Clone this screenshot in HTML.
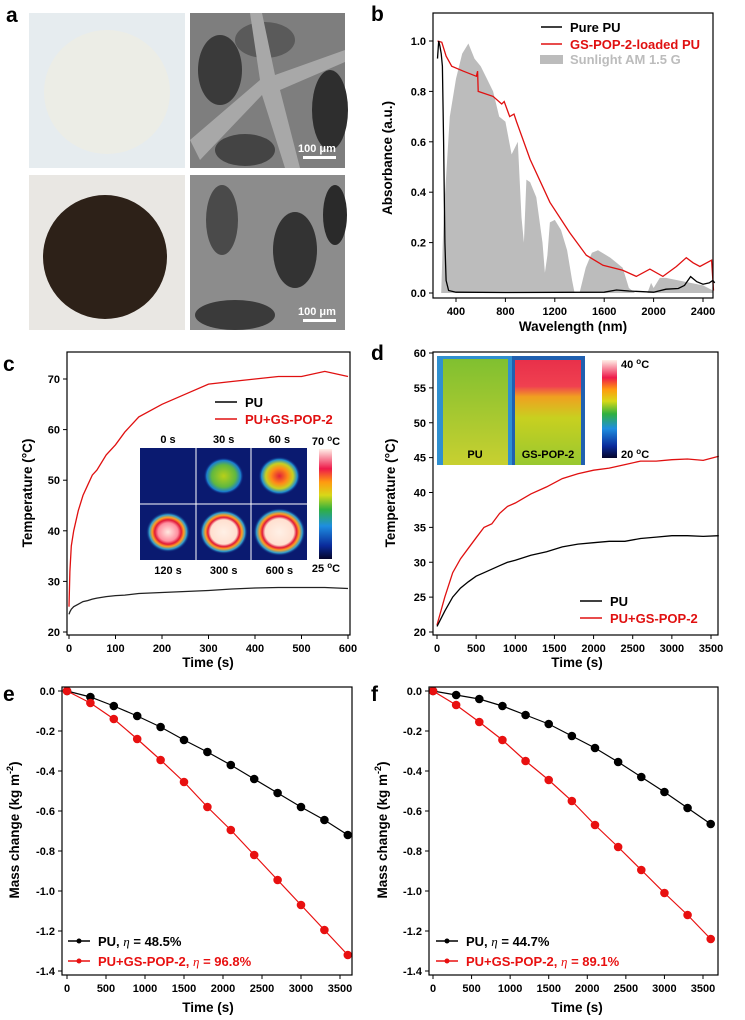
<!DOCTYPE html>
<html><head><meta charset="utf-8"><style>
html,body{margin:0;padding:0;background:#fff}
svg{display:block;font-family:"Liberation Sans",Arial,sans-serif;font-weight:bold}
</style></head><body>
<svg id="fig" width="745" height="1020" viewBox="0 0 745 1020" xmlns="http://www.w3.org/2000/svg">
<defs>
<linearGradient id="cbar" x1="0" y1="1" x2="0" y2="0">
<stop offset="0" stop-color="#05052a"/><stop offset="0.12" stop-color="#0a2a9a"/><stop offset="0.3" stop-color="#1e8ee0"/><stop offset="0.45" stop-color="#30b040"/><stop offset="0.58" stop-color="#d8d818"/><stop offset="0.7" stop-color="#ff9a10"/><stop offset="0.82" stop-color="#ee1a4a"/><stop offset="1" stop-color="#fff0e8"/></linearGradient>
<radialGradient id="h30"><stop offset="0" stop-color="#b8d018"/><stop offset="0.6" stop-color="#60b840"/><stop offset="0.85" stop-color="#1a80d0"/><stop offset="1" stop-color="#0a1a78" stop-opacity="0"/></radialGradient>
<radialGradient id="h60"><stop offset="0" stop-color="#e0203a"/><stop offset="0.4" stop-color="#ff8a18"/><stop offset="0.65" stop-color="#c8d020"/><stop offset="0.85" stop-color="#2090d0"/><stop offset="1" stop-color="#0a1a78" stop-opacity="0"/></radialGradient>
<radialGradient id="h120"><stop offset="0" stop-color="#ffe8e0"/><stop offset="0.45" stop-color="#ff90a0"/><stop offset="0.6" stop-color="#e01838"/><stop offset="0.72" stop-color="#ffa020"/><stop offset="0.85" stop-color="#30a0d0"/><stop offset="1" stop-color="#0a1a78" stop-opacity="0"/></radialGradient>
<radialGradient id="h300"><stop offset="0" stop-color="#fff0e6"/><stop offset="0.55" stop-color="#ffe0d0"/><stop offset="0.66" stop-color="#e01838"/><stop offset="0.76" stop-color="#ffa020"/><stop offset="0.88" stop-color="#30a0d0"/><stop offset="1" stop-color="#0a1a78" stop-opacity="0"/></radialGradient>
<linearGradient id="irpu" x1="0" y1="0" x2="0" y2="1"><stop offset="0" stop-color="#80c030"/><stop offset="1" stop-color="#c8d030"/></linearGradient>
<linearGradient id="irgs" x1="0" y1="0" x2="0" y2="1"><stop offset="0" stop-color="#e8304a"/><stop offset="0.25" stop-color="#f04050"/><stop offset="0.35" stop-color="#f0a020"/><stop offset="0.55" stop-color="#c8d020"/><stop offset="1" stop-color="#98c830"/></linearGradient>
</defs>

<!-- Panel a -->
<g>
<text x="6" y="22" font-size="21">a</text>
<rect x="29" y="13" width="156" height="155" fill="#e6ecef"/>
<ellipse cx="107" cy="92" rx="63" ry="62" fill="#ecede6"/>
<rect x="190" y="13" width="155" height="155" fill="#7e7e7e"/>
<ellipse cx="220" cy="70" rx="22" ry="35" fill="#3a3a3a"/><ellipse cx="330" cy="110" rx="18" ry="40" fill="#2e2e2e"/><ellipse cx="265" cy="40" rx="30" ry="18" fill="#5a5a5a"/><ellipse cx="245" cy="150" rx="30" ry="16" fill="#444"/>
<path d="M190 140 L260 80 L250 13 L262 13 L275 75 L345 50 L345 62 L280 90 L300 168 L285 168 L262 95 L200 160 Z" fill="#a8a8a8"/>
<text x="298" y="152" font-size="11" fill="#fff">100 μm</text>
<rect x="303" y="156" width="33" height="3" fill="#fff"/>
<rect x="29" y="175" width="156" height="155" fill="#e9e7e3"/>
<ellipse cx="105" cy="257" rx="62" ry="62" fill="#2d2118"/>
<rect x="190" y="175" width="155" height="155" fill="#8c8c8c"/>
<ellipse cx="222" cy="220" rx="16" ry="35" fill="#4a4a4a"/><ellipse cx="295" cy="250" rx="22" ry="38" fill="#333"/><ellipse cx="235" cy="315" rx="40" ry="15" fill="#3a3a3a"/><ellipse cx="335" cy="215" rx="12" ry="30" fill="#2a2a2a"/>
<text x="298" y="315" font-size="11" fill="#fff">100 μm</text>
<rect x="303" y="319" width="33" height="3" fill="#fff"/>
</g>

<g id="charts"></g>
</svg>
<script>
// ---- Panel b data ----
const bPureX=[250,260,270,280,290,300,310,320,340,400,800,1600,1700,1800,2000,2100,2200,2250,2300,2350,2400,2450,2480,2495];
const bPureY=[0.93,1.0,0.98,0.95,0.9,0.6,0.2,0.05,0.01,0.003,0.002,0.003,0.012,0.008,0.003,0.015,0.018,0.03,0.065,0.045,0.035,0.04,0.05,0.04];
const bGsX=[250,285,320,365,460,565,575,580,700,770,790,835,870,890,1000,1160,1320,1455,1590,1750,1860,1970,2075,2185,2265,2320,2375,2430,2470,2485];
const bGsY=[1.0,0.995,0.94,0.9,0.88,0.86,0.88,0.8,0.78,0.75,0.76,0.7,0.71,0.68,0.53,0.36,0.24,0.15,0.11,0.09,0.066,0.095,0.066,0.105,0.14,0.12,0.105,0.12,0.13,0.01];
const bSunX=[280,300,350,400,450,500,550,600,650,700,750,800,850,900,930,950,970,1000,1050,1100,1120,1140,1160,1200,1250,1300,1340,1360,1400,1450,1500,1550,1650,1750,1800,1850,1950,1980,2000,2050,2100,2200,2300,2400,2480];
const bSunY=[0,0.3,0.7,0.85,0.95,0.99,0.93,0.9,0.85,0.8,0.7,0.68,0.55,0.6,0.3,0.2,0.45,0.44,0.38,0.2,0.08,0.15,0.28,0.29,0.25,0.17,0.05,0,0,0.1,0.16,0.17,0.14,0.1,0.02,0,0,0.04,0.02,0.06,0.06,0.05,0.04,0.03,0.01];
const bXTicks=[400,800,1200,1600,2000,2400];
const bYTicks=[0,0.2,0.4,0.6,0.8,1.0];
// ---- Panel c data ----
const cT=[0,2,5,10,20,30,40,50,60,80,100,120,150,200,250,300,350,400,450,500,550,600];
const cGs=[25,32,37,40,44,47,49,51,52,55,57,59.5,62.5,65,67,69,69.5,70,70.5,70.5,71.5,70.5];
const cPu=[23.5,24,24.5,25,25.5,26,26.2,26.5,26.7,27,27.2,27.3,27.6,27.8,28,28.2,28.5,28.7,28.8,28.8,28.8,28.6];
const cXTicks=[0,100,200,300,400,500,600];
const cYTicks=[20,30,40,50,60,70];
// ---- Panel d data ----
const dT=[0,100,200,300,400,500,600,700,800,900,1000,1200,1400,1600,1800,2000,2200,2400,2600,2800,3000,3200,3400,3600];
const dGs=[21,25,28.5,30.5,32,33.5,35,35.5,37,38,38.5,39.8,40.8,42,42.7,43.2,43.5,44,44.5,44.5,44.7,44.8,44.6,45.2];
const dPu=[20.8,23,25,26.3,27.2,28,28.5,29,29.5,30,30.3,31,31.5,32.2,32.6,32.8,33,33,33.4,33.6,33.8,33.8,33.7,33.8];
const dXTicks=[0,500,1000,1500,2000,2500,3000,3500];
const dYTicks=[20,25,30,35,40,45,50,55,60];
// ---- Panel e/f data ----
const massT=[0,300,600,900,1200,1500,1800,2100,2400,2700,3000,3300,3600];
const ePu=[0,-0.03,-0.075,-0.125,-0.18,-0.245,-0.305,-0.37,-0.44,-0.51,-0.58,-0.645,-0.72];
const eGs=[0,-0.06,-0.14,-0.24,-0.345,-0.455,-0.58,-0.695,-0.82,-0.945,-1.07,-1.195,-1.32];
const fPu=[0,-0.02,-0.04,-0.075,-0.12,-0.165,-0.225,-0.285,-0.355,-0.43,-0.505,-0.585,-0.665];
const fGs=[0,-0.07,-0.155,-0.245,-0.35,-0.445,-0.55,-0.67,-0.78,-0.895,-1.01,-1.12,-1.24];
const massXTicks=[0,500,1000,1500,2000,2500,3000,3500];
const massYTicks=[0,-0.2,-0.4,-0.6,-0.8,-1.0,-1.2,-1.4];

const NS="http://www.w3.org/2000/svg";
const root=document.getElementById('charts');
function mk(tag,attrs,parent,txt){const e=document.createElementNS(NS,tag);for(const k in attrs)e.setAttribute(k,attrs[k]);if(txt!==undefined)e.textContent=txt;(parent||root).appendChild(e);return e;}
function lin(d0,d1,p0,p1){return v=>p0+(v-d0)*(p1-p0)/(d1-d0);}
function pathD(xs,ys,sx,sy){return xs.map((x,i)=>(i?'L':'M')+sx(x).toFixed(1)+' '+sy(ys[i]).toFixed(1)).join(' ');}

function axes(g,fr,sx,sy,xt,yt,xfmt,yfmt){
  const box=mk('rect',{x:fr[0],y:fr[1],width:fr[2]-fr[0],height:fr[3]-fr[1],fill:'none',stroke:'#000','stroke-width':1.2},g);
  
  
  xt.forEach(v=>{const x=sx(v);
    mk('line',{x1:x,x2:x,y1:fr[3],y2:fr[3]+4,stroke:'#000','stroke-width':1},g);
    const t=mk('text',{x:x,y:fr[3]+17,'font-size':11,'text-anchor':'middle'},g,xfmt(v));
    
    });
  yt.forEach(v=>{const y=sy(v);
    mk('line',{x1:fr[0]-4,x2:fr[0],y1:y,y2:y,stroke:'#000','stroke-width':1},g);
    const t=mk('text',{x:fr[0]-7,y:y+4,'font-size':11,'text-anchor':'end'},g,yfmt(v));
    
    });
}
function title(g,x,y,txt,rot,name){const t=mk('text',{x:x,y:y,'font-size':13.5,'text-anchor':'middle',transform:rot?`rotate(-90 ${x} ${y})`:''},g,txt);
  
  return t;}
function letter(x,y,s){const t=mk('text',{x:x,y:y,'font-size':21},root,s);
  
  }
function legendLine(g,x1,x2,y,col,txt,marker,name){
  mk('line',{x1:x1,x2:x2,y1:y,y2:y,stroke:col,'stroke-width':1.5},g);
  if(marker)mk('circle',{cx:(x1+x2)/2,cy:y,r:2.5,fill:col},g);
  const t=mk('text',{x:x2+8,y:y+5,'font-size':13,fill:col},g);t.innerHTML=txt;
  
  }
const f1=v=>v.toFixed(1);
const f0=v=>String(v);

// ---- Panel b ----
{const g=mk('g',{});


letter(371,21,'b');
const sx=lin(400,2400,456,703), sy=lin(0,1,293,41), fr=[433,13,713,298];
const sun=mk('path',{d:pathD(bSunX,bSunY,sx,sy)+` L${sx(bSunX[bSunX.length-1])} ${sy(0)} L${sx(bSunX[0])} ${sy(0)} Z`,fill:'#bcbcbc'},g);


const r=mk('path',{d:pathD(bGsX,bGsY,sx,sy),fill:'none',stroke:'#e01010','stroke-width':1.3},g);


const k=mk('path',{d:pathD(bPureX,bPureY,sx,sy),fill:'none',stroke:'#000','stroke-width':1.3},g);


axes(g,fr,sx,sy,bXTicks,bYTicks,f0,f1);
title(g,573,331,'Wavelength (nm)',false,'x-axis-title');
title(g,392,158,'Absorbance (a.u.)',true,'y-axis-title');
legendLine(g,541,562,27,'#000','Pure PU',false,'legend-entry-pure-pu');
legendLine(g,541,562,44,'#e01010','GS-POP-2-loaded PU',false,'legend-entry-gs-pop-2');
mk('rect',{x:540,y:55,width:23,height:9,fill:'#bcbcbc'},g);
const lt=mk('text',{x:570,y:64,'font-size':13,fill:'#bcbcbc'},g,'Sunlight AM 1.5 G');

}

// ---- Panel c ----
{const g=mk('g',{});


letter(3,371,'c');
const sx=lin(0,600,69,348), sy=lin(20,70,632,379), fr=[67,352,350,635];
const r=mk('path',{d:pathD(cT,cGs,sx,sy),fill:'none',stroke:'#e01010','stroke-width':1.3},g);


const k=mk('path',{d:pathD(cT,cPu,sx,sy),fill:'none',stroke:'#222','stroke-width':1.3},g);


axes(g,fr,sx,sy,cXTicks,cYTicks,f0,f0);
title(g,208,667,'Time (s)',false,'x-axis-title');
title(g,32,493,'Temperature (°C)',true,'y-axis-title');
legendLine(g,215,237,402,'#000','PU',false,'legend-entry-pu');
legendLine(g,215,237,419,'#e01010','PU+GS-POP-2',false,'legend-entry-pu-gs-pop-2');
// thermal image inset
const ins=mk('g',{},g);


mk('rect',{x:140,y:448,width:167,height:112,fill:'#0a1a70'},ins);
const cells=[['0 s',null,0],['30 s','h30',20],['60 s','h60',21],['120 s','h120',22],['300 s','h300',24],['600 s','h300',26]];
cells.forEach((c,i)=>{const cx=140+55.7*(i%3)+28,cy=448+56*Math.floor(i/3)+28;
 if(c[1])mk('ellipse',{cx:cx,cy:cy,rx:c[2],ry:c[2]*0.92,fill:`url(#${c[1]})`},ins);
 const t=mk('text',{x:cx,y:i<3?443:574,'font-size':11,'text-anchor':'middle'},ins,c[0]);
 
 });
mk('line',{x1:196,x2:196,y1:448,y2:560,stroke:'#fff','stroke-width':1},ins);
mk('line',{x1:251,x2:251,y1:448,y2:560,stroke:'#fff','stroke-width':1},ins);
mk('line',{x1:140,x2:307,y1:504,y2:504,stroke:'#fff','stroke-width':1},ins);
mk('rect',{x:319,y:449,width:13,height:110,fill:'url(#cbar)'},ins);
mk('text',{x:326,y:445,'font-size':11,'text-anchor':'middle'},ins).innerHTML='70 <tspan dy="-4" font-size="8">o</tspan><tspan dy="4">C</tspan>';
mk('text',{x:326,y:572,'font-size':11,'text-anchor':'middle'},ins).innerHTML='25 <tspan dy="-4" font-size="8">o</tspan><tspan dy="4">C</tspan>';}

// ---- Panel d ----
{const g=mk('g',{});


letter(371,360,'d');
const sx=lin(0,3500,437,711), sy=lin(20,60,632,353), fr=[433,352,718,635];
const r=mk('path',{d:pathD(dT,dGs,sx,sy),fill:'none',stroke:'#e01010','stroke-width':1.3},g);


const k=mk('path',{d:pathD(dT,dPu,sx,sy),fill:'none',stroke:'#000','stroke-width':1.3},g);


axes(g,fr,sx,sy,dXTicks,dYTicks,f0,f0);
title(g,577,667,'Time (s)',false,'x-axis-title');
title(g,395,493,'Temperature (°C)',true,'y-axis-title');
legendLine(g,580,602,601,'#000','PU',false,'legend-entry-pu');
legendLine(g,580,602,618,'#e01010','PU+GS-POP-2',false,'legend-entry-pu-gs-pop-2');
const ins=mk('g',{},g);


mk('rect',{x:437,y:356,width:75,height:109,fill:'#3090d0'},ins);
mk('rect',{x:443,y:359,width:65,height:106,fill:'url(#irpu)'},ins);
mk('rect',{x:512,y:356,width:73,height:109,fill:'#2060b0'},ins);
mk('rect',{x:515,y:360,width:66,height:105,fill:'url(#irgs)'},ins);
mk('text',{x:475,y:458,'font-size':11,'text-anchor':'middle'},ins,'PU');
mk('text',{x:548,y:458,'font-size':11,'text-anchor':'middle'},ins,'GS-POP-2');
mk('rect',{x:602,y:360,width:15,height:98,fill:'url(#cbar)'},ins);
mk('text',{x:621,y:368,'font-size':11},ins).innerHTML='40 <tspan dy="-4" font-size="8">o</tspan><tspan dy="4">C</tspan>';
mk('text',{x:621,y:458,'font-size':11},ins).innerHTML='20 <tspan dy="-4" font-size="8">o</tspan><tspan dy="4">C</tspan>';}

// ---- Panels e, f ----
function massPanel(name,lt,fr,x0,x3500,pu,gs,lx,lbl1,lbl2,tx,ty){
 const g=mk('g',{});
 
 
 const sx=lin(0,3500,x0,x3500), sy=lin(0,-1.4,691,971);
 [[pu,'#000','pu-line'],[gs,'#e81010','pu-gs-pop-2-line']].forEach(s=>{
  const p=mk('path',{d:pathD(massT,s[0],sx,sy),fill:'none',stroke:s[1],'stroke-width':1.2},g);
  
  
  s[0].forEach((v,i)=>{const c=mk('circle',{cx:sx(massT[i]),cy:sy(v),r:4.3,fill:s[1]},g);
   
   });});
 axes(g,fr,sx,sy,massXTicks,massYTicks,f0,f1);
 title(g,tx,1012,'Time (s)',false,'x-axis-title');
 const yt=title(g,ty,830,'',true,'y-axis-title');yt.innerHTML='Mass change (kg m<tspan dy="-6" font-size="9">-2</tspan><tspan dy="6">)</tspan>';
 legendLine(g,lx,lx+22,941,'#000',lbl1,true,'legend-entry-pu');
 legendLine(g,lx,lx+22,961,'#e81010',lbl2,true,'legend-entry-pu-gs-pop-2');
}
letter(3,701,'e');letter(371,701,'f');
massPanel('panel-e-mass-chart','e',[62,687,352,975],67,340,ePu,eGs,68,'PU, <tspan font-style="italic" font-weight="normal" font-family="Liberation Serif">η</tspan> = 48.5%','PU+GS-POP-2, <tspan font-style="italic" font-weight="normal" font-family="Liberation Serif">η</tspan> = 96.8%',208,19);
massPanel('panel-f-mass-chart','f',[429,687,718,975],433,703,fPu,fGs,436,'PU, <tspan font-style="italic" font-weight="normal" font-family="Liberation Serif">η</tspan> = 44.7%','PU+GS-POP-2, <tspan font-style="italic" font-weight="normal" font-family="Liberation Serif">η</tspan> = 89.1%',577,387);
</script>
</body></html>
